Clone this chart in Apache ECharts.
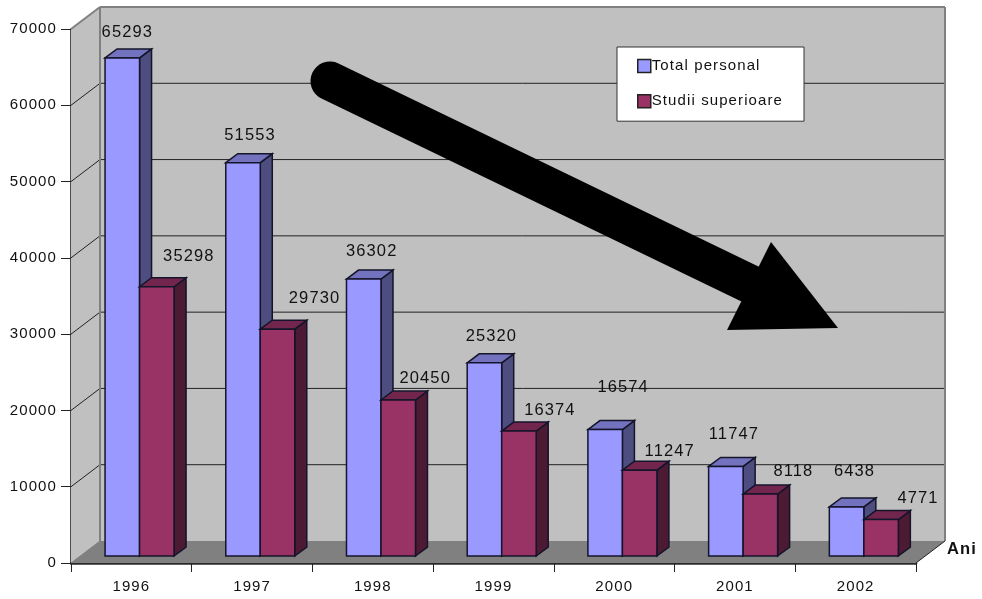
<!DOCTYPE html>
<html>
<head>
<meta charset="utf-8">
<style>html,body{margin:0;padding:0;background:#fff}#c{width:982px;height:599px}</style>
<script src="https://cdn.jsdelivr.net/npm/echarts@6/dist/echarts.min.js"></script>
</head>
<body>
<div id="c"></div>
<script>
const categories = ['1996','1997','1998','1999','2000','2001','2002'];
const totalPersonal = [65293,51553,36302,25320,16574,11747,6438];
const studiiSuperioare = [35298,29730,20450,16374,11247,8118,4771];
const yTicks = [10000,20000,30000,40000,50000,60000,70000];
const axisTitle = 'Ani';
const totalLabelOffsets = [[5,-25],[7,-27],[8,-28],[7,-26],[18,-42],[8,-32],[8,-35]];
const studiiLabelOffsets = [[32,-30],[37,-31],[27,-22],[31,-21],[30,-19],[33,-23],[37,-21]];

// wide letter spacing of the original chart
const origGetContext = HTMLCanvasElement.prototype.getContext;
HTMLCanvasElement.prototype.getContext = function () {
  const ctx = origGetContext.apply(this, arguments);
  if (ctx && 'letterSpacing' in ctx) ctx.letterSpacing = '1.1px';
  return ctx;
};

const FONT = '"Liberation Sans", Arial, sans-serif';
const DEPTH_X = 29, DEPTH_Y = 22;     // wall depth
const BAR_W = 34.5, BAR_DX = 12, BAR_DY = 9, BAR_SHIFT_X = 8.2, BAR_SHIFT_Y = 7;
const EDGE = '#14142a';

function poly(points, fill, stroke, lw) {
  return { type:'polygon', shape:{points}, style:{fill, stroke, lineWidth:lw} };
}
function line(x1,y1,x2,y2,stroke,lw) {
  return { type:'line', shape:{x1,y1,x2,y2}, style:{stroke, lineWidth:lw} };
}

function renderWalls(params, api) {
  const cs = params.coordSys;
  const L = cs.x, R = cs.x + cs.width, B = cs.y + cs.height, T = cs.y;
  const ch = [];
  ch.push(poly([[L,B],[L,T],[L+DEPTH_X,T-DEPTH_Y],[L+DEPTH_X,B-DEPTH_Y]],'#c0c0c0','none',0));
  ch.push(poly([[L+DEPTH_X,T-DEPTH_Y],[R+DEPTH_X,T-DEPTH_Y],[R+DEPTH_X,B-DEPTH_Y],[L+DEPTH_X,B-DEPTH_Y]],'#c0c0c0','none',0));
  ch.push(poly([[L,B],[R,B],[R+DEPTH_X,B-DEPTH_Y],[L+DEPTH_X,B-DEPTH_Y]],'#808080','none',0));
  yTicks.forEach(t => {
    const y = api.coord([0,t])[1];
    const top = t === yTicks[yTicks.length-1];
    const col = top ? '#808080' : '#222';
    const w = top ? 2 : 1;
    ch.push(line(L,y,L+DEPTH_X,y-DEPTH_Y,col,w));
    ch.push(line(L+DEPTH_X,y-DEPTH_Y,R+DEPTH_X,y-DEPTH_Y,col,w));
  });
  ch.push(line(L+DEPTH_X,T-DEPTH_Y,L+DEPTH_X,B-DEPTH_Y,'#808080',2));
  ch.push(line(R+DEPTH_X,T-DEPTH_Y,R+DEPTH_X,B-DEPTH_Y,'#808080',2));
  ch.push(line(L,B,L+DEPTH_X,B-DEPTH_Y,'#808080',1));
  ch.push(line(R,B,R+DEPTH_X,B-DEPTH_Y,'#222',1));
  return { type:'group', children:ch };
}

function barRenderer(sideIndex, front, top, side, labelOffsets) {
  return function (params, api) {
    const i = api.value(0), v = api.value(1);
    const cx = api.coord([i,0])[0] + BAR_SHIFT_X;
    const x0 = sideIndex === 0 ? cx - BAR_W : cx;
    const x1 = x0 + BAR_W;
    const yB = api.coord([i,0])[1] - BAR_SHIFT_Y;
    const yT = api.coord([i,v])[1] - BAR_SHIFT_Y;
    const off = labelOffsets[params.dataIndex];
    return { type:'group', children:[
      poly([[x1,yB],[x1+BAR_DX,yB-BAR_DY],[x1+BAR_DX,yT-BAR_DY],[x1,yT]], side, EDGE, 1.5),
      poly([[x0,yT],[x0+BAR_DX,yT-BAR_DY],[x1+BAR_DX,yT-BAR_DY],[x1,yT]], top, EDGE, 1.5),
      poly([[x0,yB],[x1,yB],[x1,yT],[x0,yT]], front, EDGE, 1.5),
      { type:'text', z2:50, style:{ text:String(v), x:(x0+x1)/2+off[0], y:yT+off[1],
        align:'center', verticalAlign:'middle', fill:'#111', font:'16.5px '+FONT } }
    ]};
  };
}

const chart = echarts.init(document.getElementById('c'), null, {renderer:'canvas'});
chart.setOption({
  animation:false,
  backgroundColor:'#fff',
  grid:{ left:71, right:66, top:29, bottom:36, containLabel:false },
  legend:{
    left:617, top:47, orient:'vertical', z:20,
    backgroundColor:'#fff', borderColor:'#333', borderWidth:1,
    padding:[11,21,12,20], itemWidth:13, itemHeight:13, itemGap:19,
    icon:'rect', selectedMode:false,
    itemStyle:{ borderColor:'#222', borderWidth:1.5 },
    textStyle:{ fontFamily:FONT, fontSize:15, color:'#111', padding:[0,0,0,-4] },
    data:['Total personal','Studii superioare']
  },
  xAxis:{
    type:'category', data:categories,
    axisLine:{ show:true, lineStyle:{ color:'#2a2a2a', width:2.5 } },
    axisTick:{ show:true, length:9, lineStyle:{ color:'#222', width:1 } },
    axisLabel:{ fontFamily:FONT, fontSize:15, color:'#111', margin:16 },
    splitLine:{ show:false }
  },
  yAxis:{
    type:'value', min:0, max:70000, interval:10000,
    axisLine:{ show:true, lineStyle:{ color:'#111', width:1.5 } },
    axisTick:{ show:true, length:10, lineStyle:{ color:'#222', width:1 } },
    axisLabel:{ fontFamily:FONT, fontSize:15, color:'#111', margin:14, formatter:v=>String(v) },
    splitLine:{ show:false }
  },
  series:[
    { type:'custom', name:'walls', z:1, silent:true, clip:false, data:[[0,0]], renderItem:renderWalls },
    { type:'custom', name:'Total personal', z:3, clip:false,
      itemStyle:{ color:'#9999ff' },
      data:totalPersonal.map((v,i)=>[i,v]),
      renderItem:barRenderer(0,'#9999ff','#7272bf','#4d4d80',totalLabelOffsets) },
    { type:'custom', name:'Studii superioare', z:4, clip:false,
      itemStyle:{ color:'#993366' },
      data:studiiSuperioare.map((v,i)=>[i,v]),
      renderItem:barRenderer(1,'#993366','#73264d','#4d1a33',studiiLabelOffsets) }
  ],
  graphic:[
    { type:'line', z:10, shape:{x1:330,y1:81,x2:752,y2:285},
      style:{ stroke:'#000', lineWidth:39, lineCap:'round' } },
    { type:'polygon', z:10, shape:{points:[[771,242],[838,328],[727,330]]}, style:{ fill:'#000' } },
    { type:'text', z:10, style:{ text:axisTitle, x:947, y:549, verticalAlign:'middle',
      fill:'#111', font:'bold 16.5px '+FONT } }
  ]
});
</script>
</body>
</html>
